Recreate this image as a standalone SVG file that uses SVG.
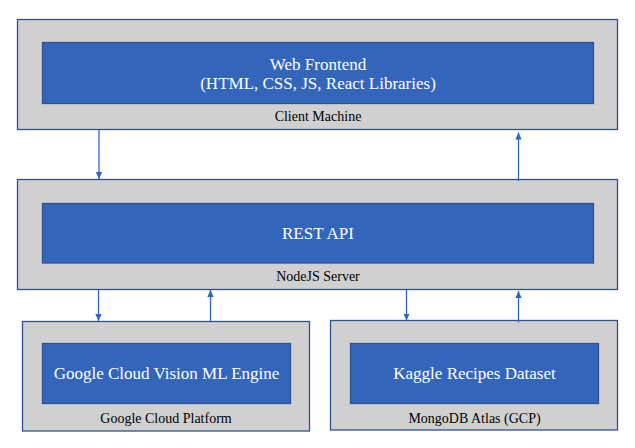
<svg xmlns="http://www.w3.org/2000/svg" width="635" height="448" viewBox="0 0 635 448">
  <style>
    .outer { fill: #D0D0D0; stroke: #2F528F; stroke-width: 1.3; }
    .inner { fill: #3366BB; stroke: #2F528F; stroke-width: 1.3; }
    .title { font-family: "Liberation Serif", "Times New Roman", serif; font-size: 17px; fill: #FFFFFF; text-anchor: middle; }
    .label { font-family: "Liberation Serif", "Times New Roman", serif; font-size: 14px; fill: #000000; text-anchor: middle; }
    .conn { stroke: #3366BB; stroke-width: 1.3; fill: none; marker-end: url(#arrow); }
  </style>
  <defs>
    <marker id="arrow" markerUnits="userSpaceOnUse" markerWidth="8" markerHeight="8" viewBox="0 0 8 8" refX="7" refY="4" orient="auto">
      <path d="M0,0.8 L7,4 L0,7.2 Z" fill="#3366BB"/>
    </marker>
  </defs>
  <rect width="635" height="448" fill="#FFFFFF"/>

  <g id="client-machine">
    <rect class="outer" x="17.5" y="19.5" width="600" height="110"/>
    <g id="web-frontend">
      <rect class="inner" x="42.5" y="42.5" width="551" height="61"/>
      <text class="title" x="318" y="69.5">Web Frontend</text>
      <text class="title" x="318" y="89">(HTML, CSS, JS, React Libraries)</text>
    </g>
    <text class="label" x="318" y="120.5">Client Machine</text>
  </g>

  <g id="nodejs-server">
    <rect class="outer" x="17.5" y="179.5" width="600" height="110"/>
    <g id="rest-api">
      <rect class="inner" x="42.5" y="203.5" width="551" height="59.5"/>
      <text class="title" x="318" y="238.5">REST API</text>
    </g>
    <text class="label" x="318" y="280.5">NodeJS Server</text>
  </g>

  <g id="google-cloud-platform">
    <rect class="outer" x="22.5" y="321.5" width="287" height="109.5"/>
    <g id="vision-engine">
      <rect class="inner" x="42.5" y="343.5" width="248" height="60"/>
      <text class="title" x="166.5" y="379">Google Cloud Vision ML Engine</text>
    </g>
    <text class="label" x="166" y="422.5">Google Cloud Platform</text>
  </g>

  <g id="mongodb-atlas">
    <rect class="outer" x="330.5" y="320.5" width="287" height="109.5"/>
    <g id="kaggle-dataset">
      <rect class="inner" x="350.5" y="343.5" width="248" height="60"/>
      <text class="title" x="474.5" y="379">Kaggle Recipes Dataset</text>
    </g>
    <text class="label" x="474.5" y="422.5">MongoDB Atlas (GCP)</text>
  </g>

  <g id="connectors">
    <line class="conn" x1="99" y1="130" x2="99" y2="179"/>
    <line class="conn" x1="518.5" y1="181" x2="518.5" y2="132.5"/>
    <line class="conn" x1="98.5" y1="290" x2="98.5" y2="321"/>
    <line class="conn" x1="210.5" y1="321.5" x2="210.5" y2="290"/>
    <line class="conn" x1="406.5" y1="290" x2="406.5" y2="320.5"/>
    <line class="conn" x1="518.5" y1="322.5" x2="518.5" y2="291"/>
  </g>
</svg>
